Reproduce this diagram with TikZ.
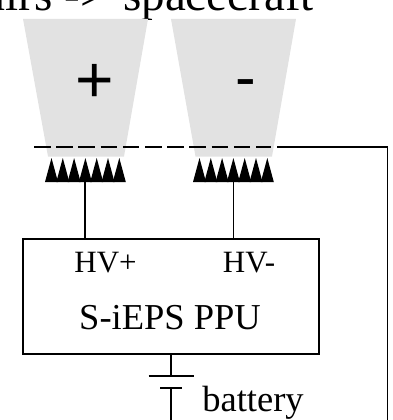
\documentclass[tikz,border=0pt]{standalone}
\usepackage{fontspec}
\setmainfont{Liberation Serif}
\newfontfamily\sansf{Liberation Sans}
\definecolor{plume}{RGB}{226,226,226}
\tikzset{
  x=1pt,y=-1pt,
  wire/.style={draw=black,line width=1.3pt},
  plumeshape/.style={fill=plume,draw=none},
  tooth/.style={fill=black,draw=none},
  lbl/.style={inner sep=0pt,font=\fontsize{#1}{#1}\selectfont,anchor=base},
  sgn/.style={inner sep=0pt,font=\fontsize{#1}{#1}\sansf\selectfont,anchor=base}
}
\newcommand{\teeth}[1]{%
  \foreach \i in {0,...,6}{
    \fill[tooth] ({#1+\i*11.3},182) -- ({#1+6.5+\i*11.3},158) -- ({#1+13+\i*11.3},182) -- cycle;
  }}
\begin{document}
\begin{tikzpicture}
\useasboundingbox (0,0) rectangle (393,420);
\clip (0,0) rectangle (393,420);
\node[lbl=47,anchor=base east] (title) at (314,11) {pairs ->\hspace{5pt} spacecraft};
\fill[plumeshape] (23,19) -- (148,19) -- (124,156.5) -- (48,156.5) -- cycle;
\fill[plumeshape] (171,19) -- (296,19) -- (272,156.5) -- (195.5,156.5) -- cycle;
\node[sgn=66] (plus) at (94.5,102) {+};
\node[sgn=62] (minus) at (246,98.5) {-};
\teeth{45}
\teeth{193}
\coordinate (a1) at (85,182);
\coordinate (a2) at (233.2,182);
\node[draw=black,line width=1.3pt,minimum width=296pt,minimum height=115pt,inner sep=0pt] (ppu) at (171,296.5) {};
\draw[wire] (a1) -- (ppu.north -| a1);
\draw[wire] (a2) -- (ppu.north -| a2);
\node[lbl=31] (hvp) at (105.5,272.5) {HV+};
\node[lbl=31] (hvm) at (249,272) {HV-};
\node[lbl=36.5] (name) at (170,329) {S-iEPS PPU};
\coordinate (b1) at (171,376);
\coordinate (b2) at (171,388);
\coordinate (b3) at (171,420);
\draw[wire] (ppu.south -| b1) -- (b1);
\draw[wire] (148.5,376) -- (193.5,376);
\draw[wire] (160,388) -- (182,388);
\draw[wire] (b2) -- (b3);
\node[lbl=36.5] (bat) at (253,411) {battery};
\coordinate (g0) at (34,147);
\coordinate (g1) at (271,147);
\coordinate (g1b) at (277,147);
\coordinate (g2) at (387.5,147);
\coordinate (g3) at (387.5,420);
\draw[wire,dash pattern=on 16.5pt off 5.7pt] (g0) -- (g1);
\draw[wire] (g1b) -- (g2) -- (g3);
\end{tikzpicture}
\end{document}
